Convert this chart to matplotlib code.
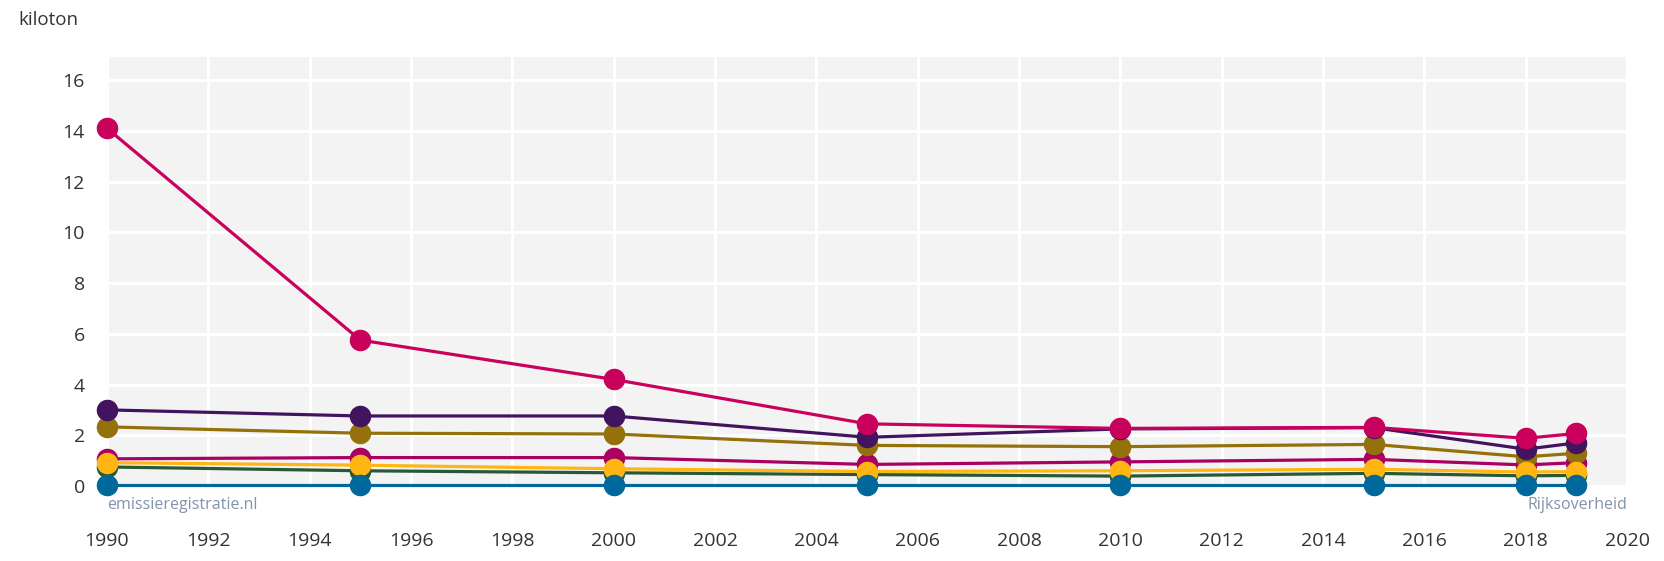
#!/usr/bin/env python3
import matplotlib
matplotlib.use("Agg")
import matplotlib.pyplot as plt

plt.rcParams["font.family"] = ["Open Sans", "DejaVu Sans"]

# -------------------------------------------------------------------
# Data (kiloton)
# -------------------------------------------------------------------
YEARS = [1990, 1995, 2000, 2005, 2010, 2015, 2018, 2019]

GREEN = [0.75, 0.6, 0.52, 0.45, 0.39, 0.5, 0.4, 0.42]
VIOLET = [1.07, 1.12, 1.12, 0.85, 0.95, 1.05, 0.83, 0.92]
OLIVE = [2.33, 2.08, 2.05, 1.6, 1.55, 1.64, 1.15, 1.29]
PURPLE = [3.0, 2.76, 2.76, 1.92, 2.25, 2.3, 1.45, 1.7]
RUBY = [14.1, 5.75, 4.2, 2.45, 2.27, 2.31, 1.88, 2.07]
YELLOW = [0.92, 0.82, 0.68, 0.57, 0.6, 0.66, 0.55, 0.57]
BLUE = [0.04, 0.04, 0.04, 0.04, 0.04, 0.04, 0.04, 0.04]

SERIES = [
    (GREEN, "#275937"),
    (VIOLET, "#a90061"),
    (OLIVE, "#94710a"),
    (PURPLE, "#42145f"),
    (RUBY, "#ca005d"),
    (YELLOW, "#ffb612"),
    (BLUE, "#01689b"),
]

X_TICKS = list(range(1990, 2021, 2))
Y_TICKS = list(range(0, 17, 2))

TEXT_COLOR = "#333333"
SOURCE_COLOR = "#8393ab"

# -------------------------------------------------------------------
# Plot
# -------------------------------------------------------------------
fig = plt.figure(figsize=(16.64, 5.61), dpi=100)
ax = fig.add_axes([0.0643, 0.1337, 0.9135, 0.7643])
ax.set_facecolor("#f3f3f3")

for i, (values, color) in enumerate(SERIES):
    ax.plot(YEARS, values, color=color, linewidth=2.3, marker="o",
            markersize=14.5, zorder=3 + i, clip_on=False)

ax.set_xlim(1990, 2020)
ax.set_ylim(0, 16.9)
ax.set_xticks(X_TICKS)
ax.set_yticks(Y_TICKS)
ax.grid(True, color="white", linewidth=2.2)
ax.set_axisbelow(True)
for s in ax.spines.values():
    s.set_visible(False)

ax.tick_params(axis="x", length=0, pad=33, labelsize=14, labelcolor=TEXT_COLOR)
ax.tick_params(axis="y", length=0, pad=16, labelsize=14, labelcolor=TEXT_COLOR)

fig.text(18 / 1664, 1 - 20 / 561, "kiloton", fontsize=13.5,
         color=TEXT_COLOR, va="center", ha="left")

ax.text(0.0, -0.045, "emissieregistratie.nl", transform=ax.transAxes,
        fontsize=11.5, color=SOURCE_COLOR, ha="left", va="center")
ax.text(1.0, -0.045, "Rijksoverheid", transform=ax.transAxes,
        fontsize=11.5, color=SOURCE_COLOR, ha="right", va="center")

fig.savefig("out.png", dpi=100)
